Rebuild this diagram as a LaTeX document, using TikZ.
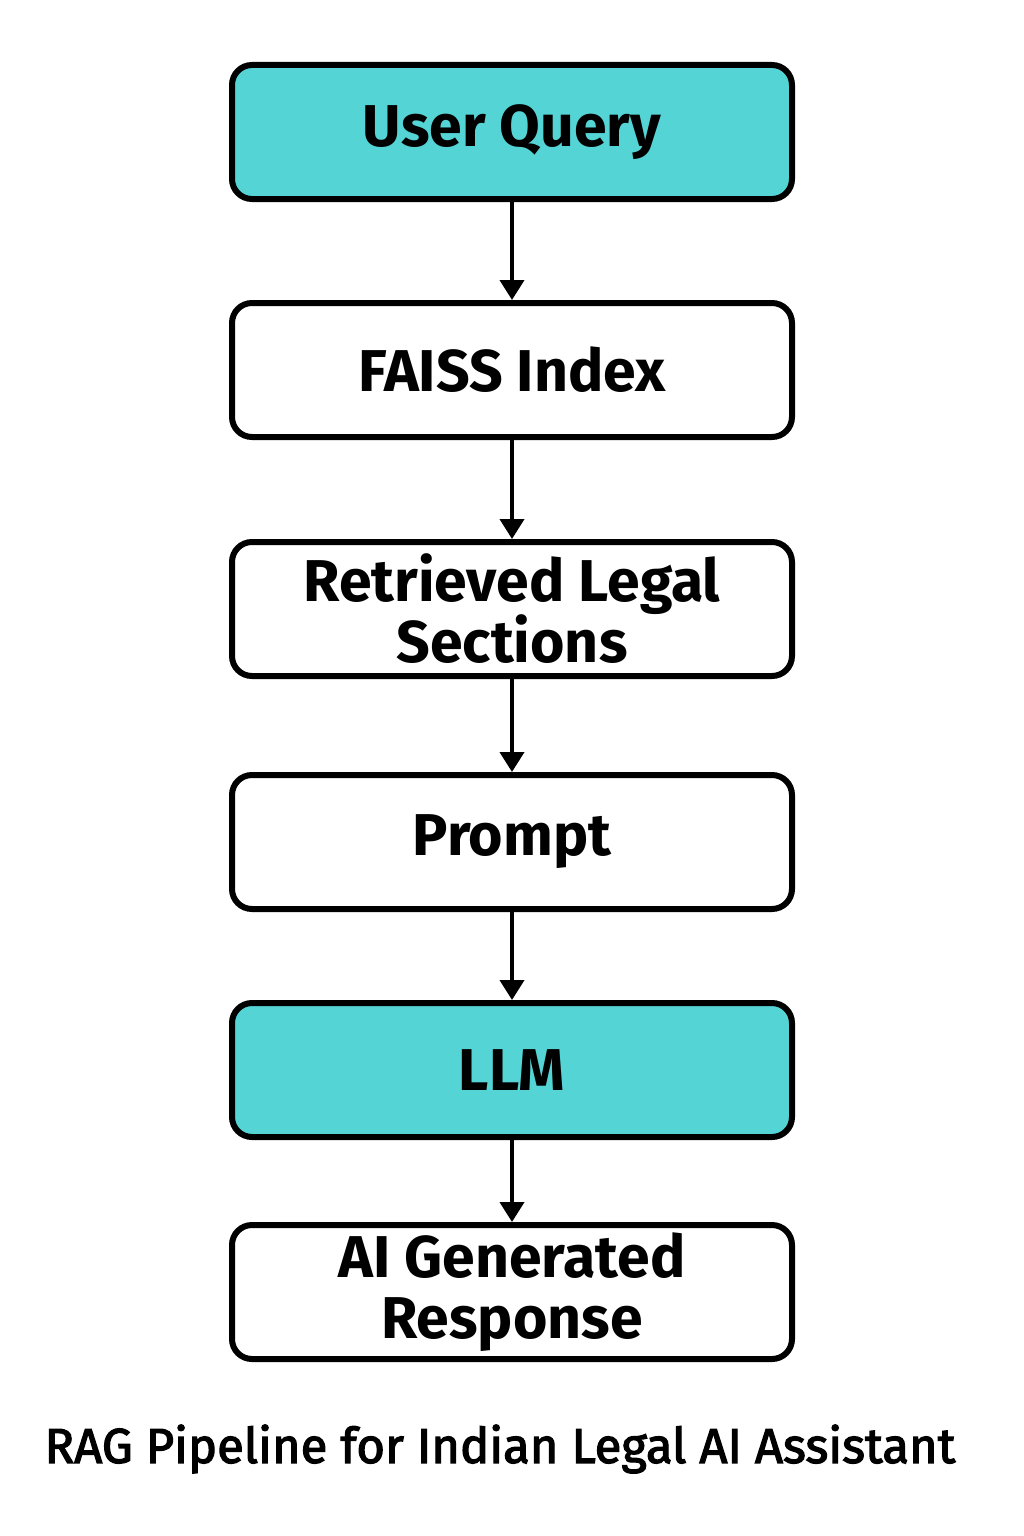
\documentclass[tikz,border=0pt]{standalone}
\usepackage{fontspec}
\setmainfont{Fira Sans}
\newfontfamily\titlefont[FakeBold=2.5]{Fira Sans}
\usetikzlibrary{arrows.meta}
\definecolor{teal}{HTML}{55D4D6}
\tikzset{
  stage/.style={draw=black, line width=6pt, rounded corners=20pt, minimum width=560pt,
    minimum height=134pt, fill=white, align=center, inner sep=0pt,
    font=\fontsize{59}{61}\selectfont\bfseries},
  hl/.style={stage, fill=teal},
  flow/.style={line width=4pt, -{Triangle[width=24pt,length=20pt]}}
}
\begin{document}
\begin{tikzpicture}[x=1pt,y=-1pt]
\useasboundingbox[fill=white] (0,0) rectangle (1024,1536);
\node[hl]    (q)   at (512,132)  {User Query};
\node[stage] (f)   at (512,370)  {FAISS Index};
\node[stage] (r)   at (512,609)  {Retrieved Legal\\Sections};
\node[stage] (p)   at (512,842)  {Prompt};
\node[hl]    (l)   at (512,1070) {LLM};
\node[stage] (a)   at (512,1292) {AI Generated\\Response};
\node[font=\titlefont\fontsize{49}{55}\selectfont] (t) at (500,1449) {RAG Pipeline for Indian Legal AI Assistant};
\draw[flow] (q.south) -- (f.north);
\draw[flow] (f.south) -- (r.north);
\draw[flow] (r.south) -- (p.north);
\draw[flow] (p.south) -- (l.north);
\draw[flow] (l.south) -- (a.north);
\end{tikzpicture}
\end{document}
